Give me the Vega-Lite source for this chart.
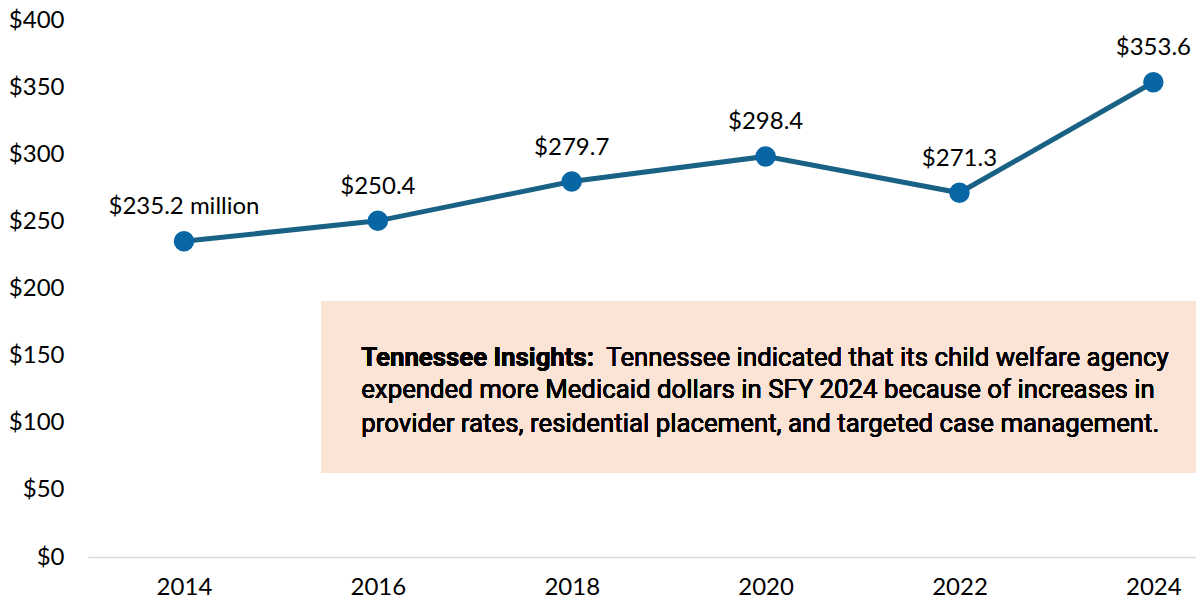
{
  "$schema": "https://vega.github.io/schema/vega-lite/v6.json",
  "width": 1108,
  "height": 537,
  "autosize": "none",
  "padding": {"left": 88, "top": 20, "right": 0, "bottom": 45},
  "background": "white",
  "config": {"view": {"stroke": null}, "font": "Lato"},
  "data": {"values": [
    {"year": 2014, "value": 235.2, "label": "$235.2 million"},
    {"year": 2016, "value": 250.4, "label": "$250.4"},
    {"year": 2018, "value": 279.7, "label": "$279.7"},
    {"year": 2020, "value": 298.4, "label": "$298.4"},
    {"year": 2022, "value": 271.3, "label": "$271.3"},
    {"year": 2024, "value": 353.6, "label": "$353.6"}
  ]},
  "encoding": {
    "x": {"field": "year", "type": "quantitative",
      "scale": {"domain": [2013.01, 2024.44], "nice": false, "zero": false},
      "axis": {"title": null, "values": [2014, 2016, 2018, 2020, 2022, 2024], "format": "d",
        "grid": false, "ticks": false, "domainColor": "#d9d9d9", "domainWidth": 1.5,
        "labelFont": "Lato", "labelFontSize": 24, "labelColor": "#000000", "labelPadding": 18}},
    "y": {"field": "value", "type": "quantitative",
      "scale": {"domain": [0, 400], "nice": false},
      "axis": {"title": null, "values": [0, 50, 100, 150, 200, 250, 300, 350, 400], "format": "$,d",
        "grid": false, "ticks": false, "domain": false,
        "labelFont": "Lato", "labelFontSize": 24, "labelColor": "#000000", "labelPadding": 24}}
  },
  "layer": [
    {
      "mark": {"type": "rect", "color": "#fbe3d6"},
      "encoding": {
        "x": {"datum": 2015.415, "type": "quantitative"},
        "x2": {"datum": 2024.44},
        "y": {"datum": 62.6, "type": "quantitative"},
        "y2": {"datum": 190.7}
      }
    },
    {"mark": {"type": "line", "color": "#1a6285", "strokeWidth": 5}},
    {"mark": {"type": "point", "filled": true, "opacity": 1, "color": "#0866a5", "size": 420}},
    {"mark": {"type": "text", "font": "Lato", "fontSize": 24, "color": "#000000", "baseline": "alphabetic", "dy": -27},
     "encoding": {"text": {"field": "label"}}},
    {
      "mark": {"type": "text", "font": "Roboto", "fontSize": 25.8, "fontWeight": "bold", "align": "left", "baseline": "alphabetic", "color": "#000000"},
      "encoding": {
        "x": {"datum": 2015.828, "type": "quantitative"},
        "y": {"datum": 142.3, "type": "quantitative"},
        "text": {"value": "Tennessee Insights:"}
      }
    },
    {
      "mark": {"type": "text", "font": "Roboto", "fontSize": 25.8, "align": "left", "baseline": "alphabetic", "color": "#000000"},
      "encoding": {
        "x": {"datum": 2018.356, "type": "quantitative"},
        "y": {"datum": 142.3, "type": "quantitative"},
        "text": {"value": "Tennessee indicated that its child welfare agency"}
      }
    },
    {
      "mark": {"type": "text", "font": "Roboto", "fontSize": 25.8, "align": "left", "baseline": "alphabetic", "color": "#000000"},
      "encoding": {
        "x": {"datum": 2015.828, "type": "quantitative"},
        "y": {"datum": 118.1, "type": "quantitative"},
        "text": {"value": "expended more Medicaid dollars in SFY 2024 because of increases in"}
      }
    },
    {
      "mark": {"type": "text", "font": "Roboto", "fontSize": 25.8, "align": "left", "baseline": "alphabetic", "color": "#000000"},
      "encoding": {
        "x": {"datum": 2015.828, "type": "quantitative"},
        "y": {"datum": 93.1, "type": "quantitative"},
        "text": {"value": "provider rates, residential placement, and targeted case management."}
      }
    }
  ]
}
